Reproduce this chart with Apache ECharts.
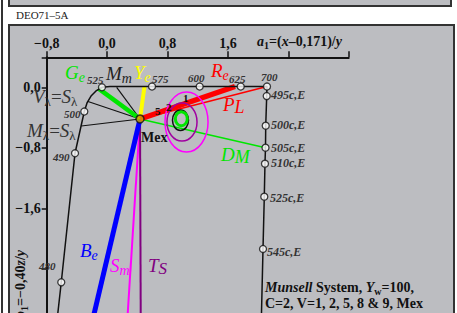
<!DOCTYPE html>
<html><head><meta charset="utf-8">
<script src="https://cdn.jsdelivr.net/npm/echarts@6/dist/echarts.min.js"></script>
<style>
html,body{margin:0;padding:0;background:#fff;width:457px;height:313px;overflow:hidden;}
#leftline{position:absolute;left:1px;top:0;width:2px;height:313px;background:#333;}
#strip{position:absolute;left:8px;top:-4px;width:444px;height:11px;background:#bcbdc1;border:2px solid #333;box-sizing:border-box;}
#panel{position:absolute;left:8px;top:24px;width:447px;height:300px;background:#bcbdc1;border:2px solid #333;box-sizing:border-box;}
#code{position:absolute;left:16px;top:9px;font:11px 'Liberation Serif';line-height:12px;color:#222;}
#chart{position:absolute;left:0;top:0;width:457px;height:313px;}
</style></head>
<body>
<div id="leftline"></div><div id="strip"></div><div id="code">DEO71–5A</div><div id="panel"></div>
<div id="chart"></div>
<script>
// ---- data ----
const xTicks = [-0.8, 0, 0.8, 1.6, 2.4, 3.2];
const xTickLabels = ['−0,8', '0,0', '0,8', '1,6', '', ''];
const yTickValues = [0, -0.8, -1.6];
const yTickLabels = ['0,0', '−0,8', '−1,6'];

const locusX = [-0.676, -0.607, -0.425, -0.302, -0.266, -0.213, -0.147, -0.068, 0.038, 0.595, 1.226, 1.770, 2.118, 2.114, 2.101, 2.098, 2.091, 2.082, 2.065, 2.040];
const locusY = [-3.2, -2.580, -0.871, -0.318, -0.205, -0.113, -0.046, 0.003, 0.013, 0.013, 0.013, 0.013, 0.013, -0.113, -0.506, -0.797, -1.009, -1.446, -2.139, -3.2];

const markName = ['525', '575', '600', '625', '700', '500', '490', '480', '495c,E', '500c,E', '505c,E', '510c,E', '525c,E', '545c,E'];
const markX = [-0.068, 0.595, 1.226, 1.770, 2.118, -0.302, -0.425, -0.607, 2.114, 2.101, 2.098, 2.091, 2.082, 2.065];
const markY = [0.003, 0.013, 0.013, 0.013, 0.013, -0.318, -0.871, -2.580, -0.113, -0.506, -0.797, -1.009, -1.446, -2.139];

const mexX = 0.436, mexY = -0.417;
const rayEndX = [0.127, -0.253, -0.342, 2.098, 2.118, 0.260, 0.446, -0.220, -0.117, 0.495, 1.694];
const rayEndY = [0.003, -0.185, -0.510, -0.797, 0.013, -3.2, -3.2, -3.2, -0.011, 0.013, 0.013];

const ellCX = [1.052, 0.992, 0.972, 0.983];
const ellCY = [-0.457, -0.457, -0.434, -0.413];
const ellRX = [0.285, 0.199, 0.106, 0.079];
const ellRY = [0.397, 0.252, 0.136, 0.093];
const contourLabels = ['1', '2', '5'];

// ---- styles / layout ----
const F = 'Liberation Serif';
const rayStyles = [
  {c:'#111', w:1.2}, {c:'#111', w:1.2}, {c:'#111', w:1.2},
  {c:'#00e600', w:1.5}, {c:'#ff0000', w:1.5}, {c:'#ff00ff', w:2}, {c:'#800080', w:2},
  {c:'#0000ff', w:5}, {c:'#00e600', w:4.5}, {c:'#ffff00', w:4}, {c:'#ff0000', w:5.5}
];
const ellStyles = [{c:'#ff00ff', w:1.5}, {c:'#a000a0', w:1.5}, {c:'#111', w:1.5}, {c:'#00e600', w:3}];
const markLabelPos = [[87,80],[152,79],[188,78],[229,79],[261,77],[64,114],[53,157],[39,266],[271,95],[271,125],[271,147.5],[271,163],[270,197.5],[267,252]];
const contourLabelPos = [[183,98],[166,107],[155,111]];

const chart = echarts.init(document.getElementById('chart'), null, {renderer:'svg'});

const series = [];
rayStyles.forEach((s, i) => {
  series.push({type:'line', data:[[mexX, mexY],[rayEndX[i], rayEndY[i]]], showSymbol:false, symbol:'none',
    lineStyle:{color:s.c, width:s.w, cap:'butt'}, z: i < 7 ? 2 : 3, silent:true});
});
series.push({type:'line', data: locusX.map((x,i)=>[x, locusY[i]]), showSymbol:false, symbol:'none',
  lineStyle:{color:'#111', width:1.5}, z:4, silent:true});
series.push({type:'custom', z:4, silent:true,
  data: ellCX.map((x,i)=>[x, ellCY[i], ellRX[i], ellRY[i], i]),
  renderItem: (params, api) => {
    const c = api.coord([api.value(0), api.value(1)]);
    const s = api.size([api.value(2), api.value(3)]);
    const st = ellStyles[api.value(4)];
    return {type:'ellipse', shape:{cx:c[0], cy:c[1], rx:s[0], ry:s[1]}, style:{fill:'none', stroke:st.c, lineWidth:st.w}};
  }});
series.push({type:'scatter', data: markX.map((x,i)=>[x, markY[i]]), symbol:'circle', symbolSize:7,
  itemStyle:{color:'#fff', borderColor:'#111', borderWidth:1.3}, z:6, silent:true});
series.push({type:'scatter', data:[[mexX, mexY]], symbol:'circle', symbolSize:8,
  itemStyle:{color:'#d0a000', borderColor:'#111', borderWidth:1.5}, z:7, silent:true});

function txt(x, y, text, o) {
  o = o || {};
  return {type:'text', x:x, y:y, z:100, rotation:o.rot||0, silent:true, style:{text:text, fill:o.color||'#111',
    fontSize:o.size||14, fontFamily:F, fontStyle:o.italic?'italic':'normal', fontWeight:o.bold?'bold':'normal',
    align:o.align||'left', verticalAlign:'middle', rich:o.rich}};
}
function sub(color, big, small, drop) {
  return {
    b:{fontSize:big, fontStyle:'italic', fontFamily:F, fill:color},
    s:{fontSize:small, fontStyle:'italic', fontFamily:F, fill:color, padding:[drop,0,0,0]},
    g:{fontSize:small, fontFamily:F, fill:color, padding:[drop,0,0,0]},
    n:{fontSize:big, fontFamily:F, fill:color}
  };
}
const graphics = [];
graphics.push(txt(65, 72, '{b|G}{s|e}', {rich:sub('#00e600',19,14,10)}));
graphics.push(txt(106, 73, '{b|M}{s|m}', {rich:sub('#222',19,14,10)}));
graphics.push(txt(134, 72, '{b|Y}{s|e}', {rich:sub('#ffff00',19,14,10)}));
graphics.push(txt(211, 70, '{b|R}{s|e}', {rich:sub('#ff0000',19,14,10)}));
graphics.push(txt(223, 104, '{b|P}{s|L}', {rich:sub('#ff0000',19,18,6)}));
graphics.push(txt(221, 154, '{b|D}{s|M}', {rich:sub('#00e600',19,18,6)}));
graphics.push(txt(80, 250, '{b|B}{s|e}', {rich:sub('#0000ff',19,14,10)}));
graphics.push(txt(110, 265, '{b|S}{s|m}', {rich:sub('#ff00ff',19,14,10)}));
graphics.push(txt(148, 265, '{b|T}{s|S}', {rich:sub('#800080',19,17,6)}));
graphics.push(txt(33, 96, '{b|V}{g|λ}{n|=}{b|S}{g|λ}', {rich:sub('#333',19,13,10)}));
graphics.push(txt(27, 130, '{b|M}{g|λ}{n|=}{b|S}{g|λ}', {rich:sub('#333',19,13,10)}));
markName.forEach((n,i) => graphics.push(txt(markLabelPos[i][0], markLabelPos[i][1], n,
  {size: n.length > 3 ? 12 : 11, italic:true, bold:true, color:'#333'})));
contourLabels.forEach((n,i) => graphics.push(txt(contourLabelPos[i][0], contourLabelPos[i][1], n, {size:11, bold:true, color:'#111'})));
graphics.push(txt(141, 137, 'Mex', {size:14, bold:true}));
graphics.push(txt(257, 41, '{i|a}{s|1}{n|=(}{i|x}{n|–0,171)/}{i|y}', {rich:{
  i:{fontSize:14, fontStyle:'italic', fontWeight:'bold', fontFamily:F, fill:'#111'},
  s:{fontSize:10, fontWeight:'bold', fontFamily:F, fill:'#111', padding:[8,0,0,0]},
  n:{fontSize:14, fontWeight:'bold', fontFamily:F, fill:'#111'}}}));
graphics.push(txt(265, 287, '{i|Munsell}{n| System, }{i|Y}{s|w}{n|=100,}', {rich:{
  i:{fontSize:14, fontStyle:'italic', fontWeight:'bold', fontFamily:F, fill:'#111'},
  s:{fontSize:10, fontWeight:'bold', fontFamily:F, fill:'#111', padding:[8,0,0,0]},
  n:{fontSize:14, fontWeight:'bold', fontFamily:F, fill:'#111'}}}));
graphics.push(txt(265, 303, 'C=2, V=1, 2, 5, 8 & 9, Mex', {size:14, bold:true}));
graphics.push(txt(20, 250, '{i|b}{s|1}{n|=−0,40}{i|z}{n|/}{i|y}', {align:'right', rot:Math.PI/2, rich:{
  i:{fontSize:14, fontStyle:'italic', fontWeight:'bold', fontFamily:F, fill:'#111'},
  s:{fontSize:10, fontWeight:'bold', fontFamily:F, fill:'#111', padding:[8,0,0,0]},
  n:{fontSize:14, fontWeight:'bold', fontFamily:F, fill:'#111'}}}));

function lab(v, vals, labs) {
  for (let i = 0; i < vals.length; i++) if (Math.abs(v - vals[i]) < 1e-6) return labs[i];
  return '';
}

chart.setOption({
  animation:false,
  backgroundColor:'transparent',
  grid:{left:46.7, top:57.3, width:302, height:271.8, outerBoundsMode:'none', containLabel:false},
  xAxis:{type:'value', position:'top', min:-0.8, max:3.2, interval:0.8,
    axisLine:{onZero:false, lineStyle:{color:'#111', width:2}},
    axisTick:{length:6, lineStyle:{color:'#111', width:1.5}},
    splitLine:{show:false},
    axisLabel:{margin:7, showMinLabel:true, showMaxLabel:true, fontFamily:F, fontWeight:'bold', fontSize:14, color:'#111',
      formatter: v => lab(v, xTicks, xTickLabels)}},
  yAxis:{type:'value', position:'left', min:-3.2, max:0.4, interval:0.8,
    axisLine:{onZero:false, lineStyle:{color:'#111', width:2}},
    axisTick:{length:5, lineStyle:{color:'#111', width:1.5}},
    splitLine:{show:false},
    axisLabel:{margin:6, fontFamily:F, fontWeight:'bold', fontSize:14, color:'#111',
      formatter: v => lab(v, yTickValues, yTickLabels)}},
  series: series,
  graphic: graphics
});
</script>
</body></html>
